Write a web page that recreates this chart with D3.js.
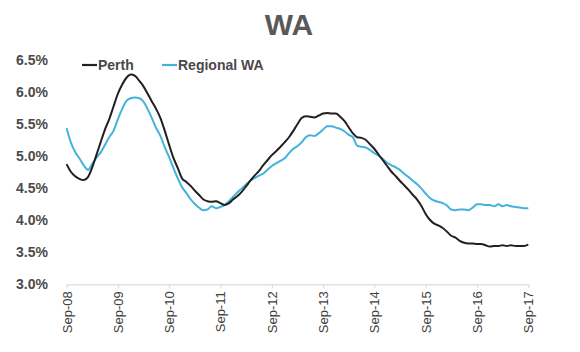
<!DOCTYPE html>
<html>
<head>
<meta charset="utf-8">
<script src="https://cdn.jsdelivr.net/npm/d3@7"></script>
<style>
  body { margin: 0; background: #fff; }
  svg { display: block; font-family: "Liberation Sans", Arial, sans-serif; }
</style>
</head>
<body>
<svg id="chart"></svg>
<script>
// monthly unemployment rate, Sep-08 .. Sep-17
const startMonth = new Date(2008, 8, 1);
const perth = [
  4.88, 4.76, 4.69, 4.65, 4.63, 4.68, 4.82, 5.02, 5.22, 5.42, 5.58, 5.78,
  5.98, 6.12, 6.23, 6.28, 6.26, 6.18, 6.10, 5.98, 5.86, 5.74, 5.60, 5.40,
  5.18, 4.98, 4.82, 4.66, 4.60, 4.54, 4.47, 4.40, 4.33, 4.30, 4.29, 4.30,
  4.27, 4.24, 4.27, 4.33, 4.38, 4.45, 4.53, 4.62, 4.70, 4.77, 4.86, 4.94,
  5.02, 5.08, 5.15, 5.22, 5.30, 5.40, 5.50, 5.60, 5.63, 5.62, 5.61, 5.64,
  5.67, 5.68, 5.67, 5.67, 5.62, 5.55, 5.46, 5.36, 5.30, 5.29, 5.26, 5.19,
  5.12, 5.03, 4.94, 4.85, 4.76, 4.69, 4.62, 4.55, 4.48, 4.40, 4.33, 4.23,
  4.10, 4.01, 3.95, 3.92, 3.88, 3.82, 3.76, 3.73, 3.68, 3.65, 3.64, 3.64,
  3.63, 3.63, 3.61, 3.59, 3.60, 3.60, 3.61, 3.60, 3.61, 3.60, 3.60, 3.60,
  3.62
];
const regional = [
  5.44, 5.22, 5.07, 4.97, 4.86, 4.79, 4.88, 4.98, 5.06, 5.18, 5.30, 5.40,
  5.58, 5.74, 5.87, 5.91, 5.92, 5.91, 5.86, 5.74, 5.60, 5.44, 5.32, 5.14,
  4.99, 4.82, 4.66, 4.52, 4.43, 4.33, 4.26, 4.20, 4.16, 4.17, 4.22, 4.19,
  4.21, 4.24, 4.30, 4.37, 4.44, 4.50, 4.56, 4.62, 4.66, 4.70, 4.73, 4.79,
  4.85, 4.89, 4.93, 4.97, 5.05, 5.12, 5.16, 5.22, 5.30, 5.33, 5.32, 5.36,
  5.42, 5.47, 5.47, 5.45, 5.43, 5.39, 5.34, 5.30, 5.17, 5.15, 5.14, 5.10,
  5.05, 5.01, 4.96, 4.90, 4.86, 4.83, 4.79, 4.73, 4.68, 4.62, 4.57, 4.50,
  4.42, 4.35, 4.31, 4.29, 4.27, 4.23, 4.17, 4.16, 4.17, 4.17, 4.16, 4.20,
  4.25, 4.25, 4.24, 4.24, 4.22, 4.25, 4.22, 4.24, 4.22, 4.21, 4.20, 4.19,
  4.19
];
const yTicks = [3.0, 3.5, 4.0, 4.5, 5.0, 5.5, 6.0, 6.5];
const seriesNames = ["Perth", "Regional WA"];
const seriesColors = ["#231f20", "#41b3dd"];

const width = 580, height = 352;
const svg = d3.select("#chart").attr("width", width).attr("height", height);

const dates = perth.map((_, i) => d3.timeMonth.offset(startMonth, i));

const x = d3.scaleTime()
    .domain([dates[0], dates[dates.length - 1]])
    .range([66.6, 528.3]);
const y = d3.scaleLinear()
    .domain([3, 6.5])
    .range([284.3, 60.5]);

// title
svg.append("text")
    .attr("x", 289).attr("y", 35)
    .attr("text-anchor", "middle")
    .attr("font-size", 30).attr("font-weight", "bold")
    .attr("fill", "#595959")
    .text("WA");

// y labels (no axis line)
svg.append("g")
  .selectAll("text")
  .data(yTicks)
  .enter().append("text")
    .attr("x", 48)
    .attr("y", d => y(d))
    .attr("dy", "0.35em")
    .attr("text-anchor", "end")
    .attr("font-size", 14).attr("font-weight", "bold")
    .attr("fill", "#4a4a4a")
    .text(d => d.toFixed(1) + "%");

// x axis
const xTickDates = d3.range(0, dates.length, 12).map(i => dates[i]);
const xAxis = svg.append("g")
    .attr("transform", `translate(0,${y(3)})`)
    .call(d3.axisBottom(x)
        .tickValues(xTickDates)
        .tickFormat(d3.timeFormat("%b-%y"))
        .tickSize(4)
        .tickSizeOuter(0));
xAxis.select(".domain").attr("stroke", "#d9d9d9").attr("stroke-width", 1.2);
xAxis.selectAll(".tick line").attr("stroke", "#d9d9d9");
xAxis.selectAll(".tick text")
    .attr("font-family", "Liberation Sans, Arial, sans-serif")
    .attr("font-size", 13)
    .attr("fill", "#404040")
    .attr("transform", "rotate(-90)")
    .attr("text-anchor", "end")
    .attr("x", -7)
    .attr("y", 0)
    .attr("dy", "0.35em");

// lines
const line = d3.line()
    .x((d, i) => x(dates[i]))
    .y(d => y(d))
    .curve(d3.curveMonotoneX);

[regional, perth].forEach((s, k) => {
  const idx = s === perth ? 0 : 1;
  svg.append("path")
      .datum(s)
      .attr("fill", "none")
      .attr("stroke", seriesColors[idx])
      .attr("stroke-width", 2)
      .attr("stroke-linejoin", "round")
      .attr("d", line);
});

// legend
const legendX = [82, 162];
const legend = svg.append("g")
  .selectAll("g")
  .data(seriesNames)
  .enter().append("g")
    .attr("transform", (d, i) => `translate(${legendX[i]},65)`);
legend.append("line")
    .attr("x1", 0).attr("x2", 15)
    .attr("stroke", (d, i) => seriesColors[i])
    .attr("stroke-width", 2.2);
legend.append("text")
    .attr("x", 16).attr("dy", "0.35em")
    .attr("font-size", 14).attr("font-weight", "bold")
    .attr("fill", "#4a4a4a")
    .text(d => d);
</script>
</body>
</html>
